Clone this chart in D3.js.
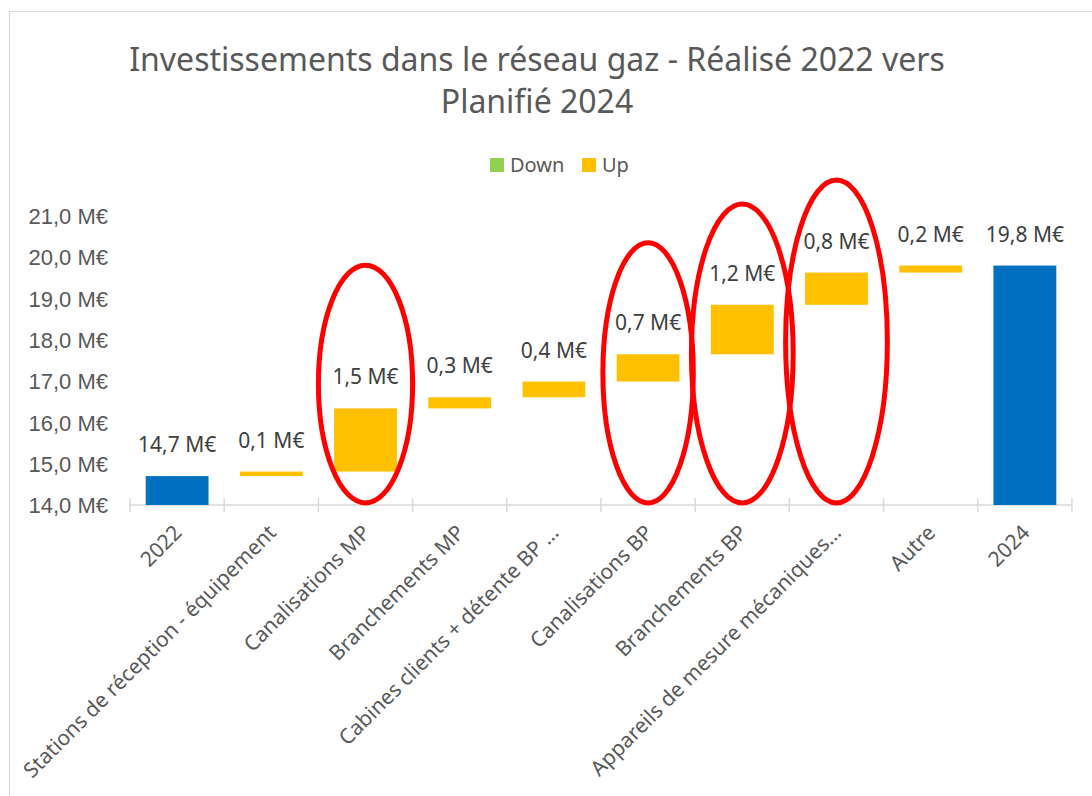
<!DOCTYPE html>
<html>
<head>
  <meta charset="utf-8">
  <title>Investissements dans le réseau gaz</title>
  <script src="https://d3js.org/d3.v7.min.js"></script>
  <style>
    body { margin: 0; background: #ffffff; }
    svg { display: block; font-family: "Noto Sans", sans-serif; }
    .frame { fill: none; stroke: #d9d9d9; stroke-width: 1; }
    .title { fill: #595959; font-size: 32px; }
    .legend text { fill: #595959; font-size: 20px; }
    .axis text { fill: #595959; font-size: 22px; }
    .axis text.cat { font-size: 21px; }
    .axis path, .axis line { stroke: #d9d9d9; stroke-width: 1.5; }
    .label { fill: #404040; font-size: 21px; text-anchor: middle; }
    .circle-note { fill: none; stroke: #ff0000; stroke-width: 5; }
  </style>
</head>
<body>

<script>
// categories of the waterfall
var categories = ["2022", "Stations de réception - équipement", "Canalisations MP",
  "Branchements MP", "Cabines clients + détente BP …", "Canalisations BP",
  "Branchements BP", "Appareils de mesure mécaniques…", "Autre", "2024"];

// totals (M€) and the steps in between
var startValue = 14.70;
var endValue = 19.80;
var steps = [0.11, 1.53, 0.27, 0.38, 0.66, 1.20, 0.78, 0.17];

var yTicks = [14, 15, 16, 17, 18, 19, 20, 21];

// red circles drawn on the chart (category, value range covered)
var notes = [
  { cat: "Canalisations MP", top: 19.81, bottom: 14.05, rx: 0.50 },
  { cat: "Canalisations BP", top: 20.35, bottom: 14.05, rx: 0.48 },
  { cat: "Branchements BP", top: 21.29, bottom: 14.05, rx: 0.54 },
  { cat: "Appareils de mesure mécaniques…", top: 21.87, bottom: 14.05, rx: 0.54 }
];

var width = 1092, height = 796;

var fr = d3.formatLocale({ decimal: ",", thousands: " ", grouping: [3], currency: ["", " M€"] });
var fmt = function (v) { return fr.format(".1f")(v) + " M€"; };

// build the waterfall rows
var rows = [];
var run = startValue;
rows.push({ cat: categories[0], y0: 14, y1: startValue, value: startValue, kind: "total" });
steps.forEach(function (s, i) {
  rows.push({ cat: categories[i + 1], y0: run, y1: run + s, value: s, kind: s >= 0 ? "up" : "down" });
  run += s;
});
rows.push({ cat: categories[categories.length - 1], y0: 14, y1: endValue, value: endValue, kind: "total" });

var colors = { total: "#0070c0", up: "#ffc000", down: "#92d050" };

var svg = d3.select("body").append("svg")
  .attr("width", width).attr("height", height);

svg.append("rect").attr("class", "frame")
  .attr("x", 9.5).attr("y", 11.5).attr("width", 1200).attr("height", 900);

// title
var title = svg.append("text").attr("class", "title").attr("text-anchor", "middle");
title.append("tspan").attr("x", 537).attr("y", 71).text("Investissements dans le réseau gaz - Réalisé 2022 vers");
title.append("tspan").attr("x", 537).attr("y", 113).text("Planifié 2024");

// legend
var legend = svg.append("g").attr("class", "legend");
var legendItems = [{ name: "Down", kind: "down", x: 490 }, { name: "Up", kind: "up", x: 582 }];
legendItems.forEach(function (d) {
  legend.append("rect").attr("x", d.x).attr("y", 158).attr("width", 14).attr("height", 14)
    .attr("fill", colors[d.kind]);
  legend.append("text").attr("x", d.x + 20).attr("y", 172).text(d.name);
});

var x = d3.scaleBand().domain(categories).range([130, 1072])
  .paddingInner(0.333).paddingOuter(0.1667);
var y = d3.scaleLinear().domain([14, 21]).range([505, 216]);

// y axis (labels only)
var yAxis = svg.append("g").attr("class", "axis")
  .attr("transform", "translate(108,0)")
  .call(d3.axisLeft(y).tickValues(yTicks).tickFormat(fmt).tickSize(0).tickPadding(0));
yAxis.select(".domain").remove();
yAxis.selectAll("text").attr("dy", "0.35em");

// x axis line with crossing ticks at band edges
var step = x.step();
var xAxis = svg.append("g").attr("class", "axis");
xAxis.append("line").attr("x1", 130).attr("x2", 1072).attr("y1", y(14)).attr("y2", y(14));
xAxis.selectAll(".tk").data(d3.range(categories.length + 1)).enter().append("line")
  .attr("x1", function (i) { return 130 + i * step; })
  .attr("x2", function (i) { return 130 + i * step; })
  .attr("y1", y(14) - 7).attr("y2", y(14) + 7);
xAxis.selectAll(".cat").data(categories).enter().append("text")
  .attr("class", "cat")
  .attr("text-anchor", "end")
  .attr("transform", function (d) {
    return "translate(" + (x(d) + x.bandwidth() / 2 + 6) + "," + (y(14) + 29) + ") rotate(-45)";
  })
  .text(function (d) { return d; });

// bars
svg.selectAll(".bar").data(rows).enter().append("rect")
  .attr("x", function (d) { return x(d.cat); })
  .attr("width", x.bandwidth())
  .attr("y", function (d) { return y(Math.max(d.y0, d.y1)); })
  .attr("height", function (d) { return Math.abs(y(d.y0) - y(d.y1)); })
  .attr("fill", function (d) { return colors[d.kind]; });

// data labels
svg.selectAll(".label").data(rows).enter().append("text")
  .attr("class", "label")
  .attr("x", function (d) { return x(d.cat) + x.bandwidth() / 2; })
  .attr("y", function (d) { return y(Math.max(d.y0, d.y1)) - 24; })
  .text(function (d) { return fmt(d.value); });

// red circles
svg.selectAll(".circle-note").data(notes).enter().append("ellipse")
  .attr("class", "circle-note")
  .attr("cx", function (d) { return x(d.cat) + x.bandwidth() / 2; })
  .attr("cy", function (d) { return (y(d.top) + y(d.bottom)) / 2; })
  .attr("rx", function (d) { return d.rx * step; })
  .attr("ry", function (d) { return (y(d.bottom) - y(d.top)) / 2; });
</script>

</body>
</html>
